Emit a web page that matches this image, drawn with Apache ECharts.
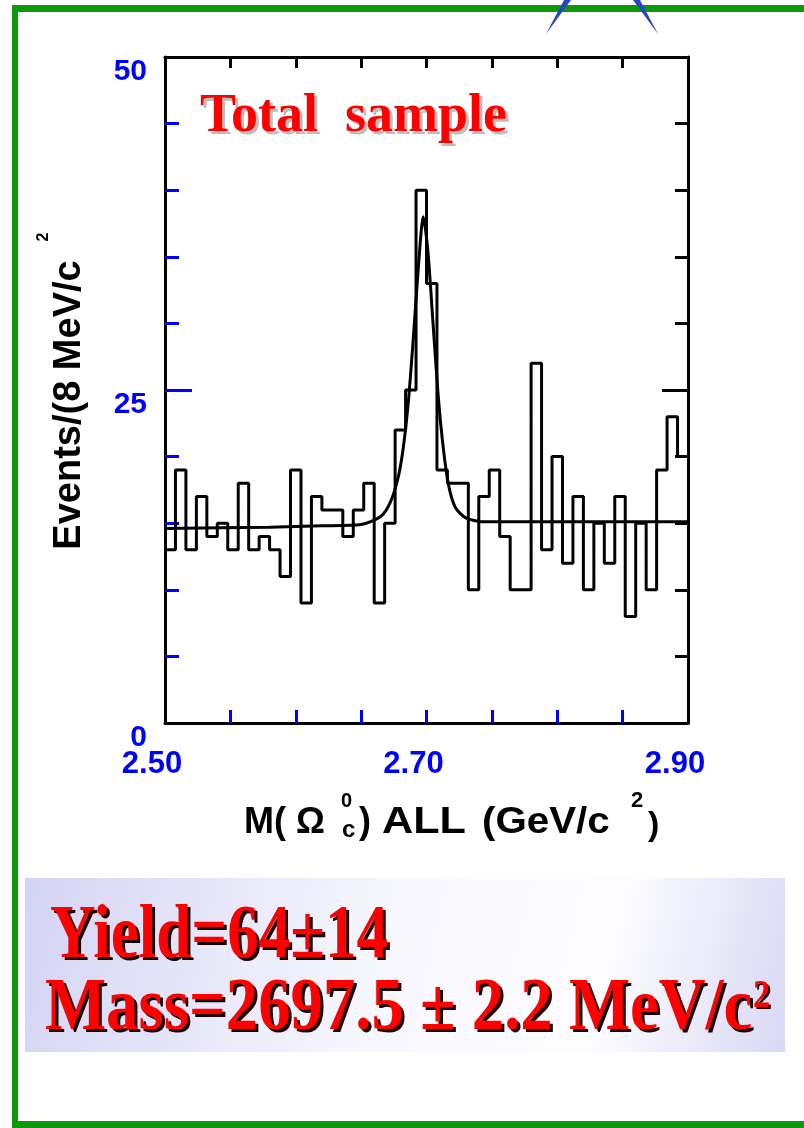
<!DOCTYPE html>
<html><head><meta charset="utf-8">
<script src="https://cdn.jsdelivr.net/npm/echarts@6/dist/echarts.min.js"></script>
<style>html,body{margin:0;padding:0;background:#fff}#c{width:804px;height:1128px}</style>
</head><body><div id="c"></div>
<script>
// ---- data ----
const xMin = 2.50, xMax = 2.90, binWidth = 0.008;
const counts = [13,19,13,17,14,15,13,18,13,14,13,11,19,9,17,16,16,14,16,18,
                9,15,22,25,40,33,19,18,18,10,17,19,14,10,10,27,13,20,12,17,
                10,15,12,17,8,15,10,19,23,20];
const fitX = [2.500,2.580,2.620,2.650,2.665,2.672,2.678,2.682,2.686,2.690,2.694,2.6975,2.701,2.705,2.709,2.713,2.717,2.722,2.730,2.745,2.900];
const fitY = [14.6, 14.7, 14.8, 14.9, 15.5, 16.5, 18.3, 20.5, 24.0, 29.0, 34.5, 38.0, 35.5, 30.0, 24.5, 20.5, 17.8, 16.2, 15.4, 15.1, 15.1];
const xTickValues = [2.55,2.60,2.65,2.70,2.75,2.80,2.85];
const xLabelValues = [2.50,2.70,2.90];
const yTickValues = [5,10,15,20,25,30,35,40,45];
const yLongTickValues = [25];
const yLabelValues = [0,25,50];
const titleText = 'Total  sample';
const yieldText = 'Yield=64±14';
const massText = 'Mass=2697.5 ± 2.2 MeV/c';
const yTitle = 'Events/(8 MeV/c';

// ---- build ----
const histData = counts.map((c,i)=>[xMin + i*binWidth, c]);
histData.push([xMax, counts[counts.length-1]]);
const fitData = fitX.map((x,i)=>[x, fitY[i]]);

const BLUE = '#0000ff';

const chart = echarts.init(document.getElementById('c'), null, {renderer:'canvas'});
chart.setOption({
  animation:false,
  backgroundColor:'#ffffff',
  grid:{left:165, top:57, width:523, height:666},
  xAxis:[
    {type:'value', position:'bottom', min:xMin, max:xMax, interval:0.05,
     axisLine:{show:true, onZero:false, lineStyle:{color:'#000', width:3}},
     axisTick:{show:true, inside:true, length:13, customValues:xTickValues, lineStyle:{color:BLUE, width:3}},
     axisLabel:{show:true, customValues:xLabelValues, formatter:v=>v.toFixed(2), color:BLUE,
                fontFamily:'Liberation Sans', fontWeight:'bold', fontSize:31, margin:26, padding:[0,26,0,0]},
     splitLine:{show:false}},
    {type:'value', position:'top', min:xMin, max:xMax, interval:0.05,
     axisLine:{show:true, onZero:false, lineStyle:{color:'#000', width:3}},
     axisTick:{show:true, inside:true, length:11, customValues:xTickValues, lineStyle:{color:'#000', width:3}},
     axisLabel:{show:false}, splitLine:{show:false}}
  ],
  yAxis:[
    {type:'value', position:'left', min:0, max:50, interval:5,
     axisLine:{show:true, onZero:false, lineStyle:{color:'#000', width:3}},
     axisTick:{show:true, inside:true, length:14, customValues:yTickValues, lineStyle:{color:BLUE, width:3}},
     axisLabel:{show:true, customValues:yLabelValues, color:BLUE, fontFamily:'Liberation Sans', fontWeight:'bold',
                fontSize:30, margin:18, verticalAlign:'top'},
     splitLine:{show:false}},
    {type:'value', position:'right', min:0, max:50, interval:5,
     axisLine:{show:true, onZero:false, lineStyle:{color:'#000', width:3}},
     axisTick:{show:true, inside:true, length:13, customValues:yTickValues, lineStyle:{color:'#000', width:3}},
     axisLabel:{show:false}, splitLine:{show:false}},
    {type:'value', position:'left', min:0, max:50, interval:5,
     axisLine:{show:false},
     axisTick:{show:true, inside:true, length:27, customValues:yLongTickValues, lineStyle:{color:BLUE, width:3}},
     axisLabel:{show:false}, splitLine:{show:false}},
    {type:'value', position:'right', min:0, max:50, interval:5,
     axisLine:{show:false},
     axisTick:{show:true, inside:true, length:26, customValues:yLongTickValues, lineStyle:{color:'#000', width:3}},
     axisLabel:{show:false}, splitLine:{show:false}}
  ],
  series:[
    {type:'line', name:'data', step:'end', data:histData, xAxisIndex:0, yAxisIndex:0,
     symbol:'none', lineStyle:{color:'#000', width:3}, z:3},
    {type:'line', name:'fit', smooth:0.25, data:fitData, xAxisIndex:0, yAxisIndex:0,
     symbol:'none', lineStyle:{color:'#000', width:3}, z:4}
  ],
  graphic:[
    // green frame
    {type:'rect', shape:{x:12,y:5,width:792,height:7}, style:{fill:'#0c990c'}},
    {type:'rect', shape:{x:12,y:5,width:6,height:1123}, style:{fill:'#0c990c'}},
    {type:'rect', shape:{x:12,y:1121,width:792,height:7}, style:{fill:'#0c990c'}},
    // blue spikes
    {type:'polygon', shape:{points:[[546,34],[564,0],[571,0]]}, style:{fill:'#2747bd'}},
    {type:'polygon', shape:{points:[[658,34],[633,0],[640,0]]}, style:{fill:'#2747bd'}},
    // title in plot
    {type:'text', x:203, y:120, style:{text:titleText, fill:'#bdbdbd', font:'bold 54px "Liberation Serif"', verticalAlign:'middle'}},
    {type:'text', x:200, y:117, style:{text:titleText, fill:'#ff0000', font:'bold 54px "Liberation Serif"', verticalAlign:'middle'}},
    // y axis title
    {type:'text', x:70, y:405, rotation:Math.PI/2, style:{text:yTitle, fill:'#000', font:'bold 38px "Liberation Sans"', align:'center', verticalAlign:'middle'}},
    {type:'text', x:44, y:237, rotation:Math.PI/2, style:{text:'2', fill:'#000', font:'bold 16px "Liberation Sans"', align:'center', verticalAlign:'middle'}},
    // x axis title
    {type:'text', x:244, y:823, style:{text:'M( Ω', fill:'#000', font:'bold 36px "Liberation Sans"', verticalAlign:'middle'}},
    {type:'text', x:341, y:801, style:{text:'0', fill:'#000', font:'bold 20px "Liberation Sans"', verticalAlign:'middle'}},
    {type:'text', x:342, y:830, style:{text:'c', fill:'#000', font:'bold 24px "Liberation Sans"', verticalAlign:'middle'}},
    {type:'text', x:359, y:823, style:{text:')', fill:'#000', font:'bold 36px "Liberation Sans"', verticalAlign:'middle'}},
    {type:'text', x:382, y:823, scaleX:1.2, style:{text:'ALL', fill:'#000', font:'bold 36px "Liberation Sans"', verticalAlign:'middle'}},
    {type:'text', x:482, y:823, scaleX:1.12, style:{text:'(GeV/c', fill:'#000', font:'bold 36px "Liberation Sans"', verticalAlign:'middle'}},
    {type:'text', x:631, y:801, style:{text:'2', fill:'#000', font:'bold 22px "Liberation Sans"', verticalAlign:'middle'}},
    {type:'text', x:648, y:826, style:{text:')', fill:'#000', font:'bold 34px "Liberation Sans"', verticalAlign:'middle'}},
    // result box
    {type:'rect', shape:{x:25,y:878,width:760,height:174},
     style:{fill:new echarts.graphic.LinearGradient(0,0,1,1,[
       {offset:0,color:'#d4d4f4'},{offset:0.45,color:'#f6f6fd'},{offset:0.75,color:'#fdfdff'},{offset:1,color:'#d8d8f4'}])}},
    {type:'text', x:53, y:940, scaleX:0.83, style:{text:yieldText, fill:'#1a0000', font:'bold 76px "Liberation Serif"', verticalAlign:'middle'}},
    {type:'text', x:50, y:937, scaleX:0.83, style:{text:yieldText, fill:'#ff0000', font:'bold 76px "Liberation Serif"', verticalAlign:'middle'}},
    {type:'text', x:48, y:1013, scaleX:0.875, style:{text:massText, fill:'#1a0000', font:'bold 74px "Liberation Serif"', verticalAlign:'middle'}},
    {type:'text', x:45, y:1010, scaleX:0.875, style:{text:massText, fill:'#ff0000', font:'bold 74px "Liberation Serif"', verticalAlign:'middle'}},
    {type:'text', x:755, y:999, scaleX:0.86, style:{text:'2', fill:'#1a0000', font:'bold 40px "Liberation Serif"', verticalAlign:'middle'}},
    {type:'text', x:753, y:997, scaleX:0.86, style:{text:'2', fill:'#ff0000', font:'bold 40px "Liberation Serif"', verticalAlign:'middle'}}
  ]
});
</script></body></html>
